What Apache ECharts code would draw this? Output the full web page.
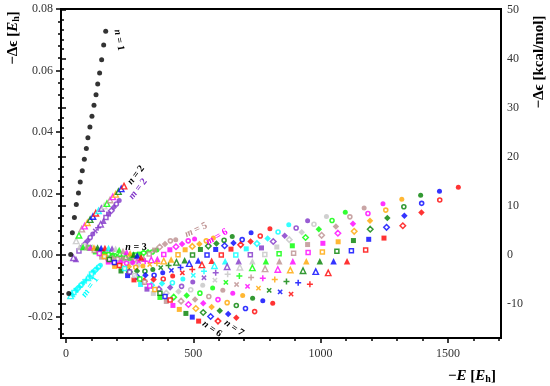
<!DOCTYPE html>
<html><head><meta charset="utf-8">
<script src="https://cdn.jsdelivr.net/npm/echarts@6/dist/echarts.min.js"></script>
<style>html,body{margin:0;padding:0;background:#fff}#c{width:550px;height:386px}</style>
</head><body><div id="c"></div>
<script>
// ---- tick labels ----
const X_TICKS = [0, 500, 1000, 1500];
const Y_TICKS_LEFT = [-0.02, 0, 0.02, 0.04, 0.06, 0.08];
const Y_TICKS_RIGHT = [-10, 0, 10, 20, 30, 40, 50];

// ---- data: row n (marker shape), index = m-1 (colour), x = -E [Eh], y = -Δε [Eh] ----
const N1_X = [11,18.5,25,33,40.5,49,56,64,72,80,86,94,102,110,118,124.5,132,140,148,156];
const N1_Y = [-0.0125,0.0002,0.0072,0.0122,0.0164,0.0202,0.0237,0.0274,0.0311,0.0346,0.0381,0.0416,0.0451,0.0487,0.0521,0.0556,0.0592,0.0635,0.0683,0.0728];
const N2_X = [18,29,40,51,62,73,84,95,106,117,128,139,150,161,173,184,195,206,217,228];
const N2_Y = [-0.0133,-0.0009,0.0046,0.0064,0.0084,0.0094,0.0105,0.0115,0.0125,0.0136,0.0144,0.0151,0.0159,0.0167,0.0179,0.0189,0.0197,0.0206,0.0215,0.0224];
const N3_X = [25,39,53,67,82,96,110,124,138,153,167,181,195,209,224,238,252,266,280,295];
const N3_Y = [-0.0127,-0.0013,0.0026,0.0026,0.0026,0.0024,0.0024,0.0024,0.0023,0.0023,0.0023,0.0021,0.0020,0.0016,0.0013,0.0010,0.0006,0.0002,-0.0002,-0.0007];
const N4_X = [31,51,71,91,111,131,151,170,190,210,230,250,270,290,309,329,349,369,389,409];
const N4_Y = [-0.0122,0.0013,0.0029,0.0023,0.0015,0.0005,-0.0005,-0.0015,-0.0024,-0.0034,-0.0044,-0.0055,-0.0067,-0.0078,-0.0089,-0.0101,-0.0112,-0.0124,-0.0135,-0.0146];
const N5_X = [39,64,89,115,140,166,191,216,242,267,293,318,343,369,394,420,445,471,496,521];
const N5_Y = [-0.0115,0.0024,0.0026,0.0010,-0.0007,-0.0023,-0.0037,-0.0052,-0.0067,-0.0081,-0.0096,-0.0111,-0.0125,-0.0138,-0.0151,-0.0164,-0.0177,-0.0190,-0.0202,-0.0215];
const N6_X = [45,74,103,132,161,190,220,249,278,307,336,365,394,423,452,481,510,539,568,597];
const N6_Y = [-0.0110,0.0035,0.0023,0.0007,-0.0010,-0.0026,-0.0041,-0.0055,-0.0070,-0.0085,-0.0098,-0.0111,-0.0124,-0.0137,-0.0150,-0.0161,-0.0174,-0.0187,-0.0200,-0.0215];
const N7_X = [52,85,117,150,182,215,247,279,312,344,377,409,442,474,507,539,572,604,637,669];
const N7_Y = [-0.0104,0.0046,0.0020,0.0005,-0.0010,-0.0024,-0.0038,-0.0052,-0.0066,-0.0080,-0.0093,-0.0106,-0.0119,-0.0132,-0.0145,-0.0157,-0.0169,-0.0181,-0.0192,-0.0204];
const N8_X = [59,95,131,167,203,238,274,310,346,382,418,454,490,526,561,597,633,669,705,741];
const N8_Y = [-0.0098,0.0057,0.0016,0.0002,-0.0013,-0.0027,-0.0040,-0.0053,-0.0066,-0.0078,-0.0090,-0.0102,-0.0113,-0.0124,-0.0135,-0.0145,-0.0155,-0.0164,-0.0174,-0.0184];
const N9_X = [66,105,145,184,223,262,302,341,380,419,459,498,537,576,616,655,694,733,773,812];
const N9_Y = [-0.0092,0.0068,0.0013,0.0000,-0.0012,-0.0024,-0.0036,-0.0047,-0.0058,-0.0068,-0.0078,-0.0088,-0.0098,-0.0107,-0.0115,-0.0124,-0.0132,-0.0141,-0.0149,-0.0157];
const N10_X = [73,115,158,201,243,286,329,372,414,457,500,542,585,628,670,713,756,798,841,884];
const N10_Y = [-0.0086,0.0078,0.0010,-0.0001,-0.0011,-0.0021,-0.0031,-0.0041,-0.0050,-0.0058,-0.0066,-0.0074,-0.0082,-0.0089,-0.0096,-0.0102,-0.0108,-0.0115,-0.0120,-0.0127];
const N11_X = [80,126,172,218,265,311,357,403,450,496,542,588,635,681,727,773,820,866,912,958];
const N11_Y = [-0.0080,0.0089,0.0005,-0.0004,-0.0012,-0.0020,-0.0027,-0.0034,-0.0041,-0.0047,-0.0053,-0.0058,-0.0063,-0.0068,-0.0073,-0.0076,-0.0080,-0.0086,-0.0090,-0.0095];
const N12_X = [86,136,186,235,285,335,384,434,484,534,583,633,683,732,782,832,881,931,981,1030];
const N12_Y = [-0.0074,0.0100,0.0000,-0.0006,-0.0011,-0.0016,-0.0020,-0.0024,-0.0028,-0.0032,-0.0035,-0.0038,-0.0040,-0.0042,-0.0045,-0.0047,-0.0049,-0.0051,-0.0054,-0.0058];
const N13_X = [94,147,200,253,306,359,413,466,519,572,625,678,732,785,838,891,944,997,1051,1104];
const N13_Y = [-0.0068,0.0111,-0.0005,-0.0008,-0.0011,-0.0013,-0.0015,-0.0017,-0.0018,-0.0019,-0.0020,-0.0020,-0.0020,-0.0020,-0.0020,-0.0020,-0.0020,-0.0020,-0.0020,-0.0020];
const N14_X = [100,157,214,270,327,384,440,497,554,610,667,724,781,837,894,951,1007,1064,1121,1177];
const N14_Y = [-0.0062,0.0122,-0.0010,0.0000,0.0003,0.0002,0.0001,0.0000,0.0000,0.0000,0.0000,0.0001,0.0002,0.0004,0.0006,0.0008,0.0010,0.0012,0.0014,0.0016];
const N15_X = [107,167,227,288,348,408,468,528,588,648,708,768,828,889,949,1009,1069,1129,1189,1249];
const N15_Y = [-0.0056,0.0133,-0.0015,0.0003,0.0016,0.0017,0.0017,0.0018,0.0018,0.0019,0.0020,0.0023,0.0026,0.0030,0.0034,0.0038,0.0043,0.0047,0.0051,0.0055];
const N16_X = [114,178,241,305,368,432,496,559,623,686,750,814,877,941,1004,1068,1132,1195,1259,1323];
const N16_Y = [-0.0050,0.0144,-0.0020,0.0007,0.0026,0.0027,0.0028,0.0029,0.0030,0.0033,0.0037,0.0044,0.0050,0.0057,0.0064,0.0071,0.0077,0.0084,0.0090,0.0095];
const N17_X = [121,188,255,322,389,456,524,591,658,725,792,859,926,993,1060,1127,1194,1262,1329,1396];
const N17_Y = [-0.0045,0.0155,-0.0024,0.0010,0.0036,0.0036,0.0036,0.0037,0.0039,0.0044,0.0054,0.0063,0.0074,0.0084,0.0093,0.0102,0.0111,0.0120,0.0128,0.0138];
const N18_X = [128,198,269,339,410,480,551,621,692,763,833,904,974,1045,1115,1186,1256,1327,1397,1468];
const N18_Y = [-0.0039,0.0166,-0.0029,0.0010,0.0046,0.0046,0.0046,0.0048,0.0050,0.0062,0.0075,0.0088,0.0100,0.0112,0.0124,0.0135,0.0146,0.0157,0.0168,0.0179];
const N19_X = [135,209,283,357,431,505,579,653,727,801,875,949,1023,1097,1171,1245,1319,1393,1467,1541];
const N19_Y = [-0.0033,0.0177,-0.0033,0.0016,0.0050,0.0052,0.0055,0.0060,0.0072,0.0085,0.0098,0.0111,0.0125,0.0139,0.0153,0.0167,0.0181,0.0194,0.0207,0.0220];

const ROWS = [null,[N1_X,N1_Y],[N2_X,N2_Y],[N3_X,N3_Y],[N4_X,N4_Y],[N5_X,N5_Y],[N6_X,N6_Y],[N7_X,N7_Y],[N8_X,N8_Y],[N9_X,N9_Y],[N10_X,N10_Y],[N11_X,N11_Y],[N12_X,N12_Y],[N13_X,N13_Y],[N14_X,N14_Y],[N15_X,N15_Y],[N16_X,N16_Y],[N17_X,N17_Y],[N18_X,N18_Y],[N19_X,N19_Y]];

// ---- styles ----
const PALETTE = ['#ff0000','#00ffff','#7f33c8','#c4c4c4','#00ff00','#bc8f8f','#ff00ff','#ffa500','#008000','#0000ff']; // by m % 10
const PLUS = 'path://M3,0H5V3H8V5H5V8H3V5H0V3H3Z';
function shapeFor(n){
  switch(n % 10){
    case 9: return {symbol:'circle', size:5, open:false};
    case 8: return {symbol:'circle', size:4, open:true, bw:1.6};
    case 7: return {symbol:'diamond', size:6.5, open:false};
    case 6: return {symbol:'diamond', size:5.5, open:true, bw:1.5};
    case 5: return {symbol:'rect', size:5, open:false};
    case 4: return {symbol:'rect', size:4, open:true, bw:1.5};
    case 3: return {symbol:'triangle', size:6.5, open:false};
    case 2: return {symbol:'triangle', size:5.5, open:true, bw:1.4};
    case 1: return {symbol:PLUS, size:6, open:false};
    default: return {symbol:PLUS, size:6, open:false, rotate:45};
  }
}

const series = [];
for (let n = 19; n >= 1; n--){
  const [xs, ys] = ROWS[n];
  if (n === 1){
    series.push({type:'scatter', xAxisIndex:0, yAxisIndex:0, symbol:'circle', symbolSize:5, silent:true,
      itemStyle:{color:'#000'}, data: xs.map((x,i)=>[x, ys[i]])});
    continue;
  }
  const s = shapeFor(n);
  series.push({type:'scatter', xAxisIndex:0, yAxisIndex:0, symbol:s.symbol, symbolSize:s.size, symbolRotate:s.rotate||0, silent:true,
    data: xs.map((x,i)=>{
      const c = PALETTE[(i+1) % 10];
      return {value:[x, ys[i]], itemStyle: s.open ? {color:'#fff', borderColor:c, borderWidth:s.bw} : {color:c}};
    })});
}

const FONT = 'Liberation Serif';
const tickStyle = {color:'#000', width:1.5};
const lblStyle = {color:'#333', fontFamily:FONT, fontSize:12};
const hidX = g => ({gridIndex:g, type:'value', show:false, min:0, max:1});

// annotation labels
const LABELS = [
  {v:'n', k:'1', x:119, y:40, a:-80, c:'#000'},
  {v:'n', k:'2', x:136, y:175, a:52, c:'#000'},
  {v:'m', k:'2', x:138, y:189, a:52, c:'#7f33c8'},
  {v:'n', k:'3', x:136, y:247, a:0, c:'#000'},
  {v:'m', k:'1', x:90, y:287, a:55, c:'#00ffff'},
  {v:'m', k:'5', x:196, y:230, a:25, c:'#bc8f8f'},
  {v:'m', k:'6', x:217, y:237, a:30, c:'#ff00ff'},
  {v:'n', k:'6', x:212, y:329, a:-35, c:'#000'},
  {v:'n', k:'7', x:234, y:328, a:-35, c:'#000'}
];
const graphic = LABELS.map(L => ({type:'text', x:L.x, y:L.y, rotation:L.a*Math.PI/180, z:100, silent:true,
  style:{text:'{i|'+L.v+'}{r| = '+L.k+'}', align:'center', verticalAlign:'middle',
    rich:{i:{fontFamily:FONT, fontSize:10, fontWeight:'bold', fontStyle:'italic', fill:L.c},
          r:{fontFamily:FONT, fontSize:10, fontWeight:'bold', fill:L.c}}}}));
const titleRich = {t:{fontFamily:FONT, fontSize:15, fontWeight:'bold', fill:'#000'},
                   i:{fontFamily:FONT, fontSize:15, fontWeight:'bold', fontStyle:'italic', fill:'#000'},
                   s:{fontFamily:FONT, fontSize:10, fontWeight:'bold', fill:'#000', padding:[6,0,0,0]}};
graphic.push({type:'text', x:13, y:38, rotation:Math.PI/2, silent:true,
  style:{text:'{t|−Δϵ [}{i|E}{s|h}{t|]}', rich:titleRich, align:'center', verticalAlign:'middle'}});
graphic.push({type:'text', x:539, y:62, rotation:Math.PI/2, silent:true,
  style:{text:'{t|−Δϵ [kcal/mol]}', rich:titleRich, align:'center', verticalAlign:'middle'}});
graphic.push({type:'text', x:472, y:376, silent:true,
  style:{text:'{t|−}{i|E}{t| [}{i|E}{s|h}{t|]}', rich:titleRich, align:'center', verticalAlign:'middle'}});

const PXY = 3075; // px per Eh
const option = {
  animation:false,
  backgroundColor:'#fff',
  grid:[
    {left:61, top:9, width:440, height:329, show:true, borderColor:'#000', borderWidth:2, backgroundColor:'transparent'},
    {left:61, top:9, width:440, height:(0.08+0.024)*PXY},
    {left:61, top:9, width:440, height:(0.08+0.02)*PXY},
    {left:61, top:9+(0.08-50/627.5)*PXY, width:440, height:66/627.5*PXY},
    {left:61, top:9+(0.08-50/627.5)*PXY, width:440, height:60/627.5*PXY},
    {left:66, top:9, width:1700*0.2546, height:329},
    {left:66, top:9, width:1500*0.2546, height:329}
  ],
  xAxis:[
    {gridIndex:0, type:'value', min:-19.6, max:1708.6, show:false},
    hidX(1), hidX(2), hidX(3), hidX(4),
    {gridIndex:5, type:'value', min:0, max:1700, interval:100, position:'bottom', offset:3,
      axisLine:{show:false}, axisTick:{show:true, length:3, lineStyle:tickStyle}, axisLabel:{show:false}, splitLine:{show:false}},
    {gridIndex:6, type:'value', min:X_TICKS[0], max:X_TICKS[X_TICKS.length-1], interval:500, position:'bottom', offset:3,
      axisLine:{show:false}, axisTick:{show:true, length:5, lineStyle:tickStyle},
      axisLabel:Object.assign({show:true, margin:7, showMinLabel:true, showMaxLabel:true,
        formatter:v=>X_TICKS.includes(Math.round(v))?String(Math.round(v)):''}, lblStyle), splitLine:{show:false}}
  ],
  yAxis:[
    {gridIndex:0, type:'value', min:0.08-329/PXY, max:0.08, show:false},
    {gridIndex:1, type:'value', min:-0.024, max:0.08, interval:0.004, position:'left',
      axisLine:{show:false}, axisTick:{show:true, length:3, lineStyle:tickStyle}, axisLabel:{show:false}, splitLine:{show:false}},
    {gridIndex:2, type:'value', min:Y_TICKS_LEFT[0], max:Y_TICKS_LEFT[Y_TICKS_LEFT.length-1], interval:0.02, position:'left',
      axisLine:{show:false}, axisTick:{show:true, length:5, lineStyle:tickStyle},
      axisLabel:Object.assign({show:true, margin:8, showMinLabel:true, showMaxLabel:true,
        formatter:v=>Math.abs(v)<1e-9?'0.00':v.toFixed(2)}, lblStyle), splitLine:{show:false}},
    {gridIndex:3, type:'value', min:-16, max:50, interval:2, position:'right',
      axisLine:{show:false}, axisTick:{show:true, length:3, lineStyle:tickStyle}, axisLabel:{show:false}, splitLine:{show:false}},
    {gridIndex:4, type:'value', min:Y_TICKS_RIGHT[0], max:Y_TICKS_RIGHT[Y_TICKS_RIGHT.length-1], interval:10, position:'right',
      axisLine:{show:false}, axisTick:{show:true, length:5, lineStyle:tickStyle},
      axisLabel:Object.assign({show:true, margin:6, showMinLabel:true, showMaxLabel:true,
        formatter:v=>Y_TICKS_RIGHT.includes(Math.round(v))?String(Math.round(v)):''}, lblStyle), splitLine:{show:false}},
    {gridIndex:5, type:'value', show:false, min:0, max:1},
    {gridIndex:6, type:'value', show:false, min:0, max:1}
  ],
  graphic: graphic,
  series: series
};
const chart = echarts.init(document.getElementById('c'), null, {renderer:'canvas'});
chart.setOption(option);
</script></body></html>
